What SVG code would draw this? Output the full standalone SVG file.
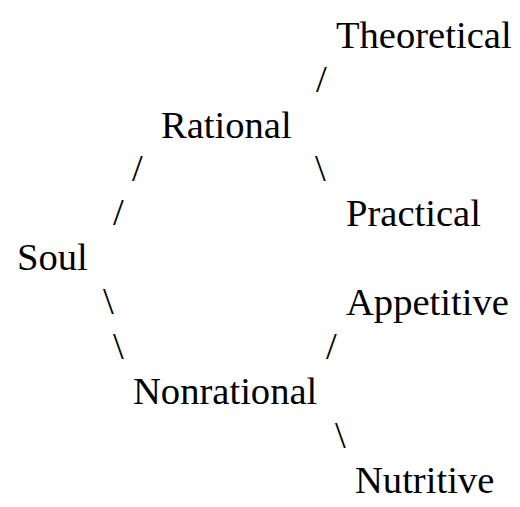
<svg xmlns="http://www.w3.org/2000/svg" width="520" height="507" viewBox="0 0 520 507">
<style>
text { font-family: "Liberation Serif", "Times New Roman", serif; font-size: 38.6px; fill: #000; }
</style>
<rect width="520" height="507" fill="#fff"/>
<g id="connectors">
<text x="316" y="91.5">/</text>
<text x="132" y="180.5">/</text>
<text x="315" y="180.5">\</text>
<text x="113" y="225">/</text>
<text x="103" y="314">\</text>
<text x="113" y="358.5">\</text>
<text x="326" y="358.5">/</text>
<text x="335" y="447.5">\</text>
</g>
<g id="theoretical"><text x="336" y="48">Theoretical</text></g>
<g id="rational"><text x="161" y="137.5">Rational</text></g>
<g id="practical"><text x="346" y="226">Practical</text></g>
<g id="soul"><text x="17" y="270">Soul</text></g>
<g id="appetitive"><text x="346" y="315">Appetitive</text></g>
<g id="nonrational"><text x="133" y="404">Nonrational</text></g>
<g id="nutritive"><text x="355" y="493">Nutritive</text></g>
</svg>
